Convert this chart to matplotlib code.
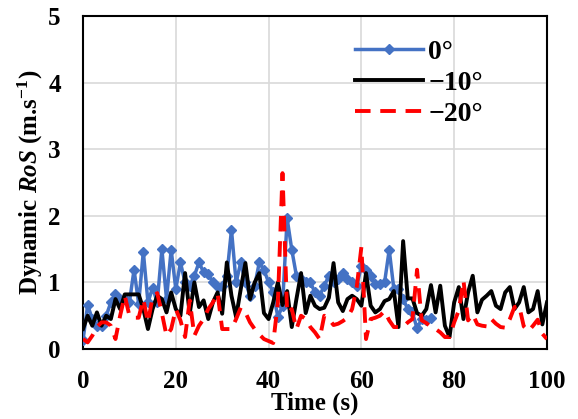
import matplotlib
matplotlib.use("Agg")
import matplotlib.pyplot as plt

# font setup (Times-like bold, italic bold for RoS)
plt.rcParams['font.family'] = ['Liberation Serif', 'DejaVu Serif']
plt.rcParams['font.weight'] = 'bold'
plt.rcParams['mathtext.fontset'] = 'custom'
plt.rcParams['mathtext.rm'] = 'Liberation Serif:bold'
plt.rcParams['mathtext.it'] = 'Liberation Serif:italic:bold'
plt.rcParams['mathtext.bf'] = 'Liberation Serif:bold'

# time axis (s)
time_0 = list(range(0, 76))
time_10 = list(range(0, 101))
time_20 = list(range(0, 101))

# 0 deg slope
ros_0 = [0.13, 0.66, 0.45, 0.35, 0.35, 0.5, 0.7, 0.82, 0.75, 0.75,
         0.7, 1.19, 0.68, 1.46, 0.7, 0.92, 0.7, 1.5, 0.75, 1.49,
         0.9, 1.3, 1.0, 0.95, 1.1, 1.3, 1.15, 1.12, 1.0, 0.93,
         0.95, 1.1, 1.79, 1.0, 1.3, 1.0, 0.8, 0.95, 1.3, 1.19,
         1.0, 0.85, 0.48, 0.65, 1.96, 1.49, 1.1, 1.05, 1.0, 1.0,
         0.85, 0.8, 0.95, 1.1, 1.0, 1.05, 1.14, 1.05, 1.0, 0.95,
         1.24, 1.18, 1.1, 0.97, 0.97, 1.0, 1.49, 0.9, 0.9, 0.75,
         0.6, 0.55, 0.31, 0.45, 0.43, 0.47]

# -10 deg slope
ros_10 = [0.3, 0.5, 0.35, 0.55, 0.35, 0.5, 0.45, 0.75, 0.6, 0.82,
          0.82, 0.82, 0.82, 0.6, 0.3, 0.6, 0.8, 0.75, 0.55, 0.85,
          0.6, 0.5, 1.14, 0.53, 1.0, 0.63, 0.73, 0.45, 0.7, 0.85,
          0.53, 1.3, 0.8, 0.48, 0.9, 1.29, 0.75, 1.0, 1.14, 0.54,
          0.45, 0.7, 1.0, 0.66, 0.87, 0.33, 0.75, 1.14, 0.54, 0.8,
          0.65, 0.6, 0.62, 0.77, 1.29, 0.7, 0.57, 0.75, 0.8, 0.75,
          0.65, 1.14, 0.65, 0.55, 0.6, 0.72, 0.75, 0.87, 0.33, 1.62,
          0.76, 0.76, 0.54, 0.5, 0.6, 0.96, 0.55, 0.95, 0.35, 0.18,
          0.7, 0.93, 0.45, 0.85, 1.1, 0.55, 0.74, 0.8, 0.87, 0.65,
          0.6, 0.85, 0.93, 0.6, 0.7, 0.93, 0.55, 0.6, 0.87, 0.37,
          0.7]

# -20 deg slope
ros_20 = [0.15, 0.1, 0.2, 0.33, 0.4, 0.4, 0.35, 0.15, 0.5, 0.8,
          0.5, 0.47, 0.47, 0.75, 0.4, 0.78, 0.84, 0.54, 0.2, 0.3,
          0.6, 0.43, 0.18, 0.73, 0.2, 0.35, 0.45, 0.6, 0.7, 0.84,
          0.3, 0.3, 0.3, 0.45, 0.62, 0.55, 0.4, 0.3, 0.22, 0.15,
          0.12, 0.09, 0.7, 2.64, 0.54, 0.6, 0.3, 0.5, 0.45, 0.33,
          0.25, 0.15, 0.5, 0.45, 0.36, 0.38, 0.42, 0.47, 0.6, 0.93,
          1.53, 0.15, 0.45, 0.47, 0.5, 0.57, 0.43, 0.33, 0.33, 0.33,
          0.4, 0.45, 1.19, 0.43, 0.39, 0.33, 0.3, 0.25, 0.18, 0.18,
          0.4, 0.58, 1.03, 0.43, 0.52, 0.37, 0.35, 0.34, 0.45, 0.38,
          0.33, 0.32, 0.45, 0.63, 0.65, 0.34, 0.27, 0.35, 0.44, 0.23,
          0.15]

labels = ['0°', '\u221210°', '\u221220°']

fig = plt.figure(figsize=(5.78, 4.19), dpi=100)
ax = fig.add_axes([0.1436, 0.167, 0.8027, 0.795])

ax.plot(time_0, ros_0, color='#4472C4', linewidth=2.5, marker='D',
        markersize=5, label=labels[0], zorder=3)
ax.plot(time_10, ros_10, color='black', linewidth=2.8, label=labels[1], zorder=4)
ax.plot(time_20, ros_20, color='#FF0000', linewidth=2.8, dashes=(4, 2.5),
        label=labels[2], zorder=5)

ax.set_xlim(0, 100)
ax.set_ylim(0, 5)
ax.set_xticks([0, 20, 40, 60, 80, 100])
ax.set_yticks([0, 1, 2, 3, 4, 5])
ax.grid(True, color='#D9D9D9', linewidth=1.2)
ax.set_axisbelow(True)
ax.tick_params(length=0, labelsize=18)
ax.tick_params(axis='x', pad=15)
ax.tick_params(axis='y', pad=16)
for lbl in ax.get_xticklabels() + ax.get_yticklabels():
    lbl.set_fontweight('bold')
for s in ax.spines.values():
    s.set_linewidth(1.5)

ax.set_xlabel('Time (s)', fontsize=18, fontweight='bold', labelpad=-1)
ax.set_ylabel(r'Dynamic $\mathit{RoS}$ (m.s$^{-1}$)', fontsize=18,
              fontweight='bold', labelpad=2)

leg = ax.legend(loc='upper left', bbox_to_anchor=(0.532, 1.005), frameon=False,
                prop={'family': 'Liberation Serif', 'weight': 'bold', 'size': 20},
                handlelength=2.45, handletextpad=0.2, labelspacing=0.2)

plt.savefig('out.png', dpi=100)
